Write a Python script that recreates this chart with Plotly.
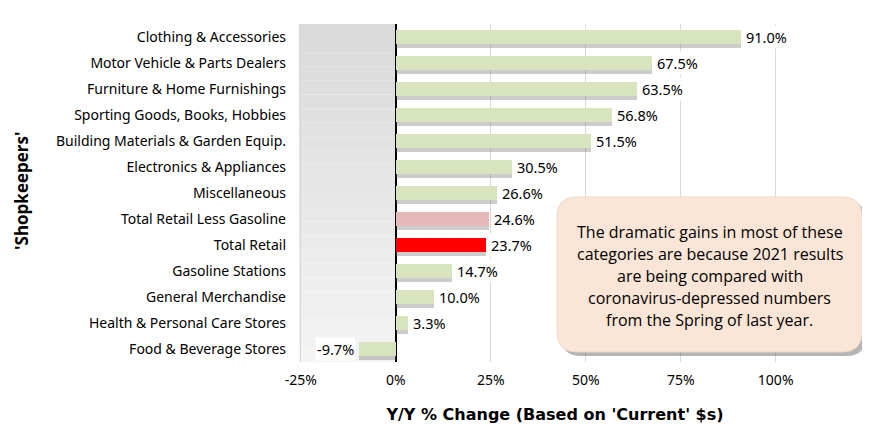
import plotly.graph_objects as go

categories = [
    "Clothing & Accessories",
    "Motor Vehicle & Parts Dealers",
    "Furniture & Home Furnishings",
    "Sporting Goods, Books, Hobbies",
    "Building Materials & Garden Equip.",
    "Electronics & Appliances",
    "Miscellaneous",
    "Total Retail Less Gasoline",
    "Total Retail",
    "Gasoline Stations",
    "General Merchandise",
    "Health & Personal Care Stores",
    "Food & Beverage Stores",
]
values = [91.0, 67.5, 63.5, 56.8, 51.5, 30.5, 26.6, 24.6, 23.7, 14.7, 10.0, 3.3, -9.7]
value_labels = ["91.0%", "67.5%", "63.5%", "56.8%", "51.5%", "30.5%", "26.6%",
                "24.6%", "23.7%", "14.7%", "10.0%", "3.3%", "-9.7%"]
tick_vals = [-25, 0, 25, 50, 75, 100]
tick_text = ["-25%", "0%", "25%", "50%", "75%", "100%"]
note_lines = [
    "The dramatic gains in most of these",
    "categories are because 2021 results",
    "are being compared with",
    "coronavirus-depressed numbers",
    "from the Spring of last year.",
]

GREEN = "#d7e4bd"
PINK = "#e6b9b8"
RED = "#ff0000"
colors = [GREEN] * len(categories)
colors[categories.index("Total Retail Less Gasoline")] = PINK
colors[categories.index("Total Retail")] = RED

ypos = list(range(len(categories)))

# page offset (browser body margin)
OFF = 8
W, H = 862, 431
L, T = 299 - OFF, 24 - OFF
PW, PH = 512, 338
R = W - L - PW
B = H - T - PH
XMIN, XMAX = -25.5, 109.3

def px(x):
    return (x - OFF - L) / PW

def py(y):
    return (T + PH - (y - OFF)) / PH

LABEL_FONT = "'Noto Sans', Lato, sans-serif"
BOX_FONT = "'Open Sans', 'Noto Sans', sans-serif"

fig = go.Figure()

# shadow bars
fig.add_trace(go.Bar(
    x=values, y=[v + 0.17 for v in ypos], orientation="h", width=0.5,
    marker=dict(color="rgba(110,110,110,0.35)", line=dict(width=0)),
    hoverinfo="skip", showlegend=False,
))
# main bars
fig.add_trace(go.Bar(
    x=values, y=ypos, orientation="h", width=0.55,
    marker=dict(color=colors, line=dict(width=0)),
    showlegend=False,
))

# value labels with white background
for v, lab, yv in zip(values, value_labels, ypos):
    fig.add_annotation(
        x=v, y=yv, xref="x", yref="y", text=lab, showarrow=False,
        xanchor="left" if v >= 0 else "right",
        xshift=3 if v >= 0 else -3,
        bgcolor="white", borderpad=1,
        font=dict(family=LABEL_FONT, size=14.5, color="#000000"),
    )

shapes = []
# gray gradient zone from left edge to 0
n = 24
for i in range(n):
    g = int(218 + (244 - 218) * i / (n - 1))
    shapes.append(dict(
        type="rect", xref="x", yref="paper", x0=XMIN, x1=0,
        y0=1 - (i + 1) / n, y1=1 - i / n,
        fillcolor=f"rgb({g},{g},{g})", line=dict(width=0), layer="below",
    ))

def rounded(x0, y0, x1, y1, r):
    def P(x, y):
        return f"{px(x):.5f},{py(y):.5f}"
    return (
        f"M {P(x0 + r, y0)} L {P(x1 - r, y0)} Q {P(x1, y0)} {P(x1, y0 + r)} "
        f"L {P(x1, y1 - r)} Q {P(x1, y1)} {P(x1 - r, y1)} "
        f"L {P(x0 + r, y1)} Q {P(x0, y1)} {P(x0, y1 - r)} "
        f"L {P(x0, y0 + r)} Q {P(x0, y0)} {P(x0 + r, y0)} Z"
    )

shapes.append(dict(type="path", xref="paper", yref="paper",
                   path=rounded(561, 201, 866, 356, 20),
                   fillcolor="rgba(90,90,90,0.45)", line=dict(width=0), layer="above"))
shapes.append(dict(type="path", xref="paper", yref="paper",
                   path=rounded(557, 197, 862, 352, 20),
                   fillcolor="#fbe5d6", line=dict(color="#f0d8c8", width=1), layer="above"))

for i, line in enumerate(note_lines):
    fig.add_annotation(
        xref="paper", yref="paper", x=px(709.5), y=py(232 + 22 * i),
        xanchor="center", yanchor="middle", text=line, showarrow=False,
        font=dict(family=BOX_FONT, size=16, color="#000000"),
    )

fig.add_annotation(
    xref="paper", yref="paper", x=px(21), y=py(191), text="<b>'Shopkeepers'</b>",
    textangle=-90, showarrow=False, xanchor="center", yanchor="middle",
    font=dict(family=BOX_FONT, size=17, color="#000000"),
)

fig.update_layout(
    width=W, height=H,
    margin=dict(l=L, r=R, t=T, b=B, pad=0),
    paper_bgcolor="white", plot_bgcolor="white",
    barmode="overlay", bargap=0,
    shapes=shapes,
    xaxis=dict(
        range=[XMIN, XMAX], tickvals=tick_vals, ticktext=tick_text,
        showgrid=True, gridcolor="#d9d9d9", gridwidth=1,
        zeroline=True, zerolinecolor="#000000", zerolinewidth=1.5,
        showline=False, ticks="", ticklabelstandoff=8,
        tickfont=dict(family=LABEL_FONT, size=14, color="#000000"),
        title=dict(text="<b>Y/Y % Change (Based on 'Current' $s)</b>",
                   font=dict(family="'DejaVu Sans', sans-serif", size=16, color="#000000"),
                   standoff=20),
        automargin=False,
    ),
    yaxis=dict(
        range=[12.5, -0.5], tickvals=ypos, ticktext=categories,
        showgrid=False, zeroline=False, showline=False, ticks="",
        ticklabelstandoff=12,
        tickfont=dict(family=LABEL_FONT, size=14, color="#000000"),
        title=dict(text=""),
        automargin=False,
    ),
    font=dict(family=LABEL_FONT),
)

fig.write_html("out.html")
